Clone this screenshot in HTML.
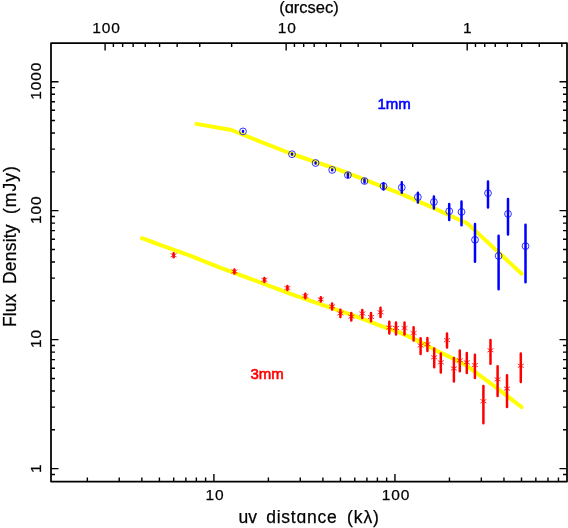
<!DOCTYPE html>
<html><head><meta charset="utf-8"><title>uv distance vs flux density</title>
<style>
html,body{margin:0;padding:0;background:#fff;}
body{width:568px;height:528px;overflow:hidden;}
svg{display:block;font-family:"Liberation Sans",sans-serif;}
text{white-space:pre;stroke:#000;stroke-width:0.25px;}
</style></head><body>
<svg width="568" height="528" viewBox="0 0 568 528">
<rect x="0" y="0" width="568" height="528" fill="#fff"/>
<rect x="51" y="43" width="516" height="438.5" fill="none" stroke="#000" stroke-width="1.75" stroke-linejoin="round"/>
<path d="M87.35 481.50L87.35 477.50 M119.23 481.50L119.23 477.50 M141.85 481.50L141.85 477.50 M159.40 481.50L159.40 477.50 M173.73 481.50L173.73 477.50 M185.86 481.50L185.86 477.50 M196.35 481.50L196.35 477.50 M205.62 481.50L205.62 477.50 M213.90 481.50L213.90 474.00 M268.40 481.50L268.40 477.50 M300.28 481.50L300.28 477.50 M322.90 481.50L322.90 477.50 M340.45 481.50L340.45 477.50 M354.78 481.50L354.78 477.50 M366.91 481.50L366.91 477.50 M377.40 481.50L377.40 477.50 M386.67 481.50L386.67 477.50 M394.95 481.50L394.95 474.00 M449.45 481.50L449.45 477.50 M481.33 481.50L481.33 477.50 M503.95 481.50L503.95 477.50 M521.50 481.50L521.50 477.50 M535.83 481.50L535.83 477.50 M547.96 481.50L547.96 477.50 M558.45 481.50L558.45 477.50 M561.87 43.00L561.87 47.00 M539.25 43.00L539.25 47.00 M521.70 43.00L521.70 47.00 M507.37 43.00L507.37 47.00 M495.24 43.00L495.24 47.00 M484.75 43.00L484.75 47.00 M475.48 43.00L475.48 47.00 M467.20 43.00L467.20 50.50 M412.70 43.00L412.70 47.00 M380.82 43.00L380.82 47.00 M358.20 43.00L358.20 47.00 M340.65 43.00L340.65 47.00 M326.32 43.00L326.32 47.00 M314.19 43.00L314.19 47.00 M303.70 43.00L303.70 47.00 M294.43 43.00L294.43 47.00 M286.15 43.00L286.15 50.50 M231.65 43.00L231.65 47.00 M199.77 43.00L199.77 47.00 M177.15 43.00L177.15 47.00 M159.60 43.00L159.60 47.00 M145.27 43.00L145.27 47.00 M133.14 43.00L133.14 47.00 M122.65 43.00L122.65 47.00 M113.38 43.00L113.38 47.00 M105.10 43.00L105.10 50.50 M51.00 474.51L55.00 474.51 M567.00 474.51L563.00 474.51 M51.00 468.61L58.50 468.61 M567.00 468.61L559.50 468.61 M51.00 429.79L55.00 429.79 M567.00 429.79L563.00 429.79 M51.00 407.08L55.00 407.08 M567.00 407.08L563.00 407.08 M51.00 390.96L55.00 390.96 M567.00 390.96L563.00 390.96 M51.00 378.46L55.00 378.46 M567.00 378.46L563.00 378.46 M51.00 368.25L55.00 368.25 M567.00 368.25L563.00 368.25 M51.00 359.62L55.00 359.62 M567.00 359.62L563.00 359.62 M51.00 352.14L55.00 352.14 M567.00 352.14L563.00 352.14 M51.00 345.54L55.00 345.54 M567.00 345.54L563.00 345.54 M51.00 339.64L58.50 339.64 M567.00 339.64L559.50 339.64 M51.00 300.82L55.00 300.82 M567.00 300.82L563.00 300.82 M51.00 278.11L55.00 278.11 M567.00 278.11L563.00 278.11 M51.00 261.99L55.00 261.99 M567.00 261.99L563.00 261.99 M51.00 249.49L55.00 249.49 M567.00 249.49L563.00 249.49 M51.00 239.28L55.00 239.28 M567.00 239.28L563.00 239.28 M51.00 230.65L55.00 230.65 M567.00 230.65L563.00 230.65 M51.00 223.17L55.00 223.17 M567.00 223.17L563.00 223.17 M51.00 216.57L55.00 216.57 M567.00 216.57L563.00 216.57 M51.00 210.67L58.50 210.67 M567.00 210.67L559.50 210.67 M51.00 171.85L55.00 171.85 M567.00 171.85L563.00 171.85 M51.00 149.14L55.00 149.14 M567.00 149.14L563.00 149.14 M51.00 133.02L55.00 133.02 M567.00 133.02L563.00 133.02 M51.00 120.52L55.00 120.52 M567.00 120.52L563.00 120.52 M51.00 110.31L55.00 110.31 M567.00 110.31L563.00 110.31 M51.00 101.68L55.00 101.68 M567.00 101.68L563.00 101.68 M51.00 94.20L55.00 94.20 M567.00 94.20L563.00 94.20 M51.00 87.60L55.00 87.60 M567.00 87.60L563.00 87.60 M51.00 81.70L58.50 81.70 M567.00 81.70L559.50 81.70" stroke="#000" stroke-width="1.4" fill="none"/>
<polyline points="196.4,123.9 231.4,130 266,143.9 292,154 340,170.1 400,193.3 434,208.2 449.2,215.3 467.3,223.4 521.6,273.7" fill="none" stroke="#ffff00" stroke-width="4" stroke-linecap="round" stroke-linejoin="round"/>
<polyline points="142,238.2 160,244.9 190,255.6 220,267.6 296,295.8 356,316.4 380,325.7 400,332.7 413.3,338.6 425,344.4 440,352.4 455,359.4 467.3,366.1 498,388.9 521.5,407" fill="none" stroke="#ffff00" stroke-width="4" stroke-linecap="round" stroke-linejoin="round"/>
<path d="M243.00 131.00L243.00 131.80 M292.00 153.80L292.00 154.60 M315.60 162.60L315.60 163.40 M332.20 169.50L332.20 170.30 M347.90 173.50L347.90 177.00 M364.50 179.40L364.50 182.60 M383.50 183.30L383.50 189.60 M401.80 182.30L401.80 192.80 M417.90 192.70L417.90 202.40 M433.90 196.40L433.90 208.50 M449.20 204.10L449.20 219.90 M461.50 201.50L461.50 225.30 M475.00 224.10L475.00 261.80 M488.00 181.50L488.00 207.40 M498.60 235.70L498.60 289.30 M508.00 199.00L508.00 234.40 M525.50 224.70L525.50 282.30" stroke="#0000ff" stroke-width="2.5" stroke-linecap="round" fill="none"/>
<circle cx="243.00" cy="131.40" r="3.4" fill="none" stroke="#0000ff" stroke-width="0.8"/>
<circle cx="292.00" cy="154.20" r="3.4" fill="none" stroke="#0000ff" stroke-width="0.8"/>
<circle cx="315.60" cy="163.00" r="3.4" fill="none" stroke="#0000ff" stroke-width="0.8"/>
<circle cx="332.20" cy="169.90" r="3.4" fill="none" stroke="#0000ff" stroke-width="0.8"/>
<circle cx="347.90" cy="175.10" r="3.4" fill="none" stroke="#0000ff" stroke-width="0.8"/>
<circle cx="364.50" cy="181.00" r="3.4" fill="none" stroke="#0000ff" stroke-width="0.8"/>
<circle cx="383.50" cy="186.20" r="3.4" fill="none" stroke="#0000ff" stroke-width="0.8"/>
<circle cx="401.80" cy="187.50" r="3.4" fill="none" stroke="#0000ff" stroke-width="0.8"/>
<circle cx="417.90" cy="197.10" r="3.4" fill="none" stroke="#0000ff" stroke-width="0.8"/>
<circle cx="433.90" cy="202.00" r="3.4" fill="none" stroke="#0000ff" stroke-width="0.8"/>
<circle cx="449.20" cy="211.20" r="3.4" fill="none" stroke="#0000ff" stroke-width="0.8"/>
<circle cx="461.50" cy="211.90" r="3.4" fill="none" stroke="#0000ff" stroke-width="0.8"/>
<circle cx="475.00" cy="239.80" r="3.4" fill="none" stroke="#0000ff" stroke-width="0.8"/>
<circle cx="488.00" cy="193.20" r="3.4" fill="none" stroke="#0000ff" stroke-width="0.8"/>
<circle cx="498.60" cy="255.90" r="3.4" fill="none" stroke="#0000ff" stroke-width="0.8"/>
<circle cx="508.00" cy="213.90" r="3.4" fill="none" stroke="#0000ff" stroke-width="0.8"/>
<circle cx="525.50" cy="246.10" r="3.4" fill="none" stroke="#0000ff" stroke-width="0.8"/>
<path d="M173.60 253.30L173.60 257.30 M234.40 269.50L234.40 273.50 M264.40 277.90L264.40 281.90 M287.40 286.00L287.40 290.00 M305.30 293.70L305.30 298.30 M320.80 297.30L320.80 301.50 M332.10 303.40L332.10 309.40 M340.40 309.70L340.40 317.00 M351.30 312.90L351.30 320.50 M362.30 309.90L362.30 318.10 M371.00 313.10L371.00 321.30 M380.50 307.80L380.50 317.10 M389.30 321.70L389.30 333.40 M396.00 322.40L396.00 334.60 M404.50 322.40L404.50 334.40 M413.60 327.30L413.60 340.50 M420.60 338.30L420.60 354.10 M427.40 338.00L427.40 351.10 M434.20 348.50L434.20 367.30 M440.80 353.40L440.80 372.60 M447.00 333.50L447.00 347.40 M453.90 358.00L453.90 381.50 M459.80 350.50L459.80 371.20 M466.80 352.90L466.80 373.00 M474.90 354.70L474.90 377.90 M483.40 386.00L483.40 423.20 M490.50 340.00L490.50 363.80 M497.60 366.20L497.60 396.10 M507.00 375.30L507.00 407.00 M520.80 353.50L520.80 382.10" stroke="#ff0000" stroke-width="2.5" stroke-linecap="round" fill="none"/>
<path d="M170.60 253.50l6.00 3.60M170.60 257.10l6.00 -3.60 M231.40 269.70l6.00 3.60M231.40 273.30l6.00 -3.60 M261.40 278.10l6.00 3.60M261.40 281.70l6.00 -3.60 M284.40 286.20l6.00 3.60M284.40 289.80l6.00 -3.60 M302.30 294.20l6.00 3.60M302.30 297.80l6.00 -3.60 M317.80 297.60l6.00 3.60M317.80 301.20l6.00 -3.60 M329.10 304.60l6.00 3.60M329.10 308.20l6.00 -3.60 M337.40 311.60l6.00 3.60M337.40 315.20l6.00 -3.60 M348.30 314.90l6.00 3.60M348.30 318.50l6.00 -3.60 M359.30 311.70l6.00 3.60M359.30 315.30l6.00 -3.60 M368.00 315.20l6.00 3.60M368.00 318.80l6.00 -3.60 M377.50 310.50l6.00 3.60M377.50 314.10l6.00 -3.60 M386.30 325.70l6.00 3.60M386.30 329.30l6.00 -3.60 M393.00 326.20l6.00 3.60M393.00 329.80l6.00 -3.60 M401.50 326.20l6.00 3.60M401.50 329.80l6.00 -3.60 M410.60 331.20l6.00 3.60M410.60 334.80l6.00 -3.60 M417.60 343.70l6.00 3.60M417.60 347.30l6.00 -3.60 M424.40 342.40l6.00 3.60M424.40 346.00l6.00 -3.60 M431.20 355.50l6.00 3.60M431.20 359.10l6.00 -3.60 M437.80 360.50l6.00 3.60M437.80 364.10l6.00 -3.60 M444.00 338.40l6.00 3.60M444.00 342.00l6.00 -3.60 M450.90 366.70l6.00 3.60M450.90 370.30l6.00 -3.60 M456.80 358.50l6.00 3.60M456.80 362.10l6.00 -3.60 M463.80 360.50l6.00 3.60M463.80 364.10l6.00 -3.60 M471.90 363.30l6.00 3.60M471.90 366.90l6.00 -3.60 M480.40 399.40l6.00 3.60M480.40 403.00l6.00 -3.60 M487.50 348.50l6.00 3.60M487.50 352.10l6.00 -3.60 M494.60 377.60l6.00 3.60M494.60 381.20l6.00 -3.60 M504.00 386.80l6.00 3.60M504.00 390.40l6.00 -3.60 M517.80 364.00l6.00 3.60M517.80 367.60l6.00 -3.60" stroke="#ff0000" stroke-width="0.8" fill="none"/>
<g opacity="0.999">
<text x="215" y="499.9" font-size="15.5" text-anchor="middle" letter-spacing="0.9">10</text>
<text x="396" y="499.9" font-size="15.5" text-anchor="middle" letter-spacing="0.9">100</text>
<text x="106.5" y="33.2" font-size="15.5" text-anchor="middle" letter-spacing="0.9">100</text>
<text x="287.3" y="33.2" font-size="15.5" text-anchor="middle" letter-spacing="0.9">10</text>
<text x="467.2" y="33.2" font-size="15.5" text-anchor="middle">1</text>
<text transform="translate(41.3 81.7) rotate(-90)" x="1" y="0" font-size="15.5" text-anchor="middle" letter-spacing="0.9">1000</text>
<text transform="translate(41.3 210.7) rotate(-90)" x="1" y="0" font-size="15.5" text-anchor="middle" letter-spacing="0.9">100</text>
<text transform="translate(41.3 339.6) rotate(-90)" x="1" y="0" font-size="15.5" text-anchor="middle" letter-spacing="0.9">10</text>
<text transform="translate(41.3 468.6) rotate(-90)" x="0" y="0" font-size="15.5" text-anchor="middle">1</text>
<text x="309" y="13.4" font-size="16.5" text-anchor="middle" letter-spacing="0" >(&#593;rcsec)</text>
<text x="238.6" y="523" font-size="17.5" text-anchor="start" letter-spacing="0" >uv</text>
<text x="266.2" y="523" font-size="17.5" text-anchor="start" letter-spacing="0.75" >dist&#593;nce</text>
<text x="347" y="523" font-size="17.5" text-anchor="start" letter-spacing="0.9" >(k&#955;)</text>
<text transform="translate(15.7 327) rotate(-90)" font-size="17.5" text-anchor="start" letter-spacing="0.1">Flux</text>
<text transform="translate(15.7 284) rotate(-90)" font-size="17.5" text-anchor="start" letter-spacing="0.2">Density</text>
<text transform="translate(15.7 214) rotate(-90)" font-size="17.5" text-anchor="start" letter-spacing="1">(mJy)</text>
<text x="377.5" y="108.5" font-size="15" text-anchor="start" fill="#0000ff" style="stroke:#0000ff;stroke-width:0.6px">1mm</text>
<text x="250.5" y="379" font-size="15" text-anchor="start" fill="#ff0000" style="stroke:#ff0000;stroke-width:0.6px">3mm</text>
</g>
</svg>
</body></html>
